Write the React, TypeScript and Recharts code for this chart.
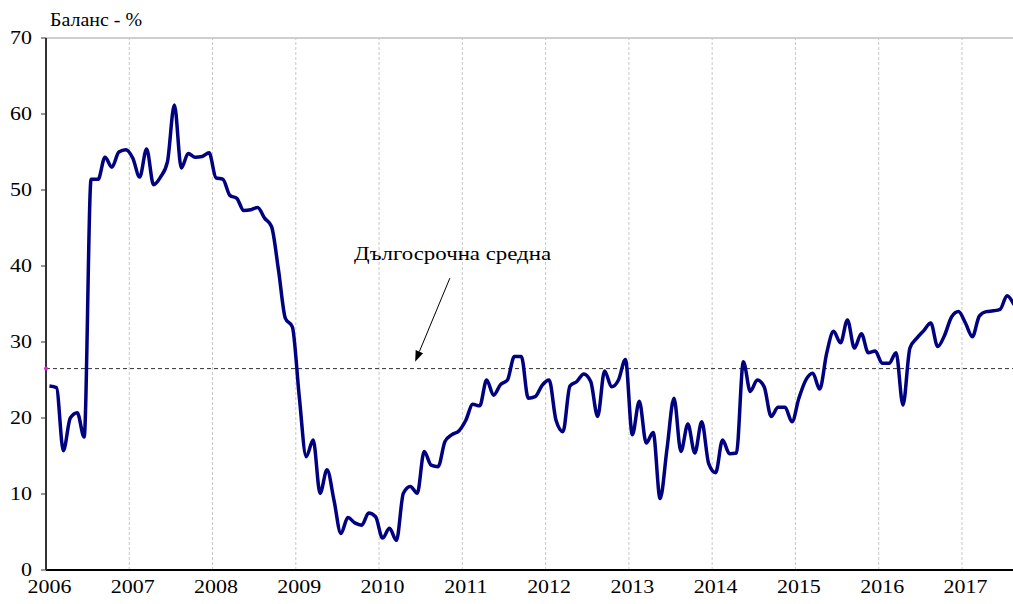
import { LineChart, Line, XAxis, YAxis, ReferenceLine, ReferenceDot } from "recharts";

// monthly balance, Jan 2006 – Aug 2017
const y2006 = [24.2, 24.0, 15.7, 20.0, 20.7, 17.5, 51.4, 51.4, 54.3, 53.0, 55.0, 55.3];
const y2007 = [54.2, 51.7, 55.4, 50.7, 51.7, 53.7, 61.2, 52.9, 54.8, 54.3, 54.4, 54.9];
const y2008 = [51.6, 51.4, 49.3, 48.9, 47.3, 47.4, 47.7, 46.3, 45.2, 39.5, 33.1, 32.0];
const y2009 = [22.8, 14.9, 17.1, 10.1, 13.2, 9.2, 4.8, 6.9, 6.2, 5.9, 7.5, 7.0];
const y2010 = [4.2, 5.5, 3.9, 10.1, 11.0, 10.1, 15.6, 13.8, 13.6, 16.9, 17.8, 18.3];
const y2011 = [19.7, 21.8, 21.6, 25.0, 23.0, 24.4, 25.0, 28.1, 28.1, 22.6, 22.8, 24.3];
const y2012 = [25.0, 19.7, 18.2, 24.2, 24.8, 25.8, 24.8, 20.2, 26.2, 24.1, 25.0, 27.7];
const y2013 = [17.8, 22.2, 16.7, 18.1, 9.4, 16.0, 22.6, 15.6, 19.2, 15.4, 19.5, 14.0];
const y2014 = [12.8, 17.1, 15.3, 15.4, 27.4, 23.5, 25.0, 24.1, 20.2, 21.4, 21.4, 19.5];
const y2015 = [22.6, 25.0, 25.9, 23.8, 28.5, 31.4, 29.9, 32.9, 29.2, 31.1, 28.6, 28.8];
const y2016 = [27.2, 27.2, 28.6, 21.7, 29.2, 30.5, 31.5, 32.5, 29.4, 30.9, 33.3, 34.0];
const y2017 = [32.5, 30.7, 33.4, 34.0, 34.1, 34.3, 36.1, 34.9];

const years = ["2006", "2007", "2008", "2009", "2010", "2011", "2012", "2013", "2014", "2015", "2016", "2017"];
const yTicks = [0, 10, 20, 30, 40, 50, 60, 70];
const longTermMean = 26.5;
const annotation = "Дългосрочна средна";
const yTitle = "Баланс - %";

const values = [
  ...y2006, ...y2007, ...y2008, ...y2009, ...y2010, ...y2011,
  ...y2012, ...y2013, ...y2014, ...y2015, ...y2016, ...y2017
];
const data = values.map((v, i) => ({ idx: i, value: v }));
const yearTicks = years.map((_, k) => k * 12);
const yearBounds = years.slice(1).map((_, k) => (k + 1) * 12 - 0.5);

const font = "'Liberation Serif', 'Times New Roman', serif";
const stretch = 1.22; // reference glyphs are wider than Liberation Serif

const XTick = (p: any) => (
  <text
    transform={`translate(${p.x},${p.y}) scale(${stretch},1)`}
    textAnchor="middle"
    dy="0.71em"
    fill="#000"
    fontSize={18}
    fontFamily={font}
  >
    {years[p.payload.value / 12]}
  </text>
);

const YTick = (p: any) => (
  <text
    transform={`translate(${p.x},${p.y}) scale(${stretch},1)`}
    textAnchor="end"
    dy="0.35em"
    fill="#000"
    fontSize={18}
    fontFamily={font}
  >
    {p.payload.value}
  </text>
);

const Arrow = (p: any) => {
  const { x1, y1, x2, y2 } = p;
  const a = Math.atan2(y2 - y1, x2 - x1);
  const len = 11;
  const w = 4;
  const bx = x2 - len * Math.cos(a);
  const by = y2 - len * Math.sin(a);
  const px = -Math.sin(a) * w;
  const py = Math.cos(a) * w;
  return (
    <g>
      <line x1={x1} y1={y1} x2={bx} y2={by} stroke="#000" strokeWidth={1} />
      <polygon points={`${x2},${y2} ${bx + px},${by + py} ${bx - px},${by - py}`} fill="#000" />
    </g>
  );
};

export default function App() {
  return (
    <div style={{ position: "absolute", left: 0, top: 0, background: "#fff", fontFamily: font }}>
      <LineChart width={1014} height={604} data={data} margin={{ top: 38, right: 0, bottom: 0, left: 0 }}>
        <XAxis
          dataKey="idx"
          type="number"
          domain={[-0.5, 139]}
          ticks={yearTicks}
          interval={0}
          height={34}
          tickLine={false}
          axisLine={{ stroke: "#000", strokeWidth: 2 }}
          tick={XTick}
          tickMargin={4}
        />
        <YAxis
          domain={[0, 70]}
          ticks={yTicks}
          interval={0}
          width={46}
          tickSize={5}
          tickLine={{ stroke: "#333" }}
          axisLine={{ stroke: "#333", strokeWidth: 2 }}
          tick={YTick}
          tickMargin={9}
          label={{
            content: (p: any) => (
              <text
                x={p.viewBox.x + p.viewBox.width + 4}
                y={p.viewBox.y - 12}
                fill="#000"
                fontSize={18}
                fontFamily={font}
                textLength={92}
                lengthAdjust="spacingAndGlyphs"
              >
                {yTitle}
              </text>
            )
          }}
        />
        <ReferenceLine y={70} stroke="#a0a0a0" strokeWidth={1} />
        {yearBounds.map((x) => (
          <ReferenceLine key={x} x={x} stroke="#c8c8c8" strokeDasharray="3 2" strokeWidth={1} />
        ))}
        <ReferenceLine y={longTermMean} stroke="#333" strokeDasharray="4 3" strokeWidth={1} />
        <ReferenceDot x={-0.5} y={longTermMean} r={2} fill="#e020e0" stroke="none" />
        <ReferenceLine
          segment={[{ x: 57.7, y: 38.4 }, { x: 52.7, y: 27.4 }]}
          shape={Arrow}
        />
        <ReferenceDot
          x={58.1}
          y={41.7}
          r={0}
          shape={(p: any) => (
            <text
              x={p.cx}
              y={p.cy}
              textAnchor="middle"
              dominantBaseline="central"
              fill="#000"
              fontSize={19}
              fontFamily={font}
              textLength={197}
              lengthAdjust="spacingAndGlyphs"
            >
              {annotation}
            </text>
          )}
        />
        <Line
          type="monotone"
          dataKey="value"
          stroke="#000080"
          strokeWidth={3.5}
          dot={false}
          activeDot={false}
          isAnimationActive={false}
        />
      </LineChart>
    </div>
  );
}
